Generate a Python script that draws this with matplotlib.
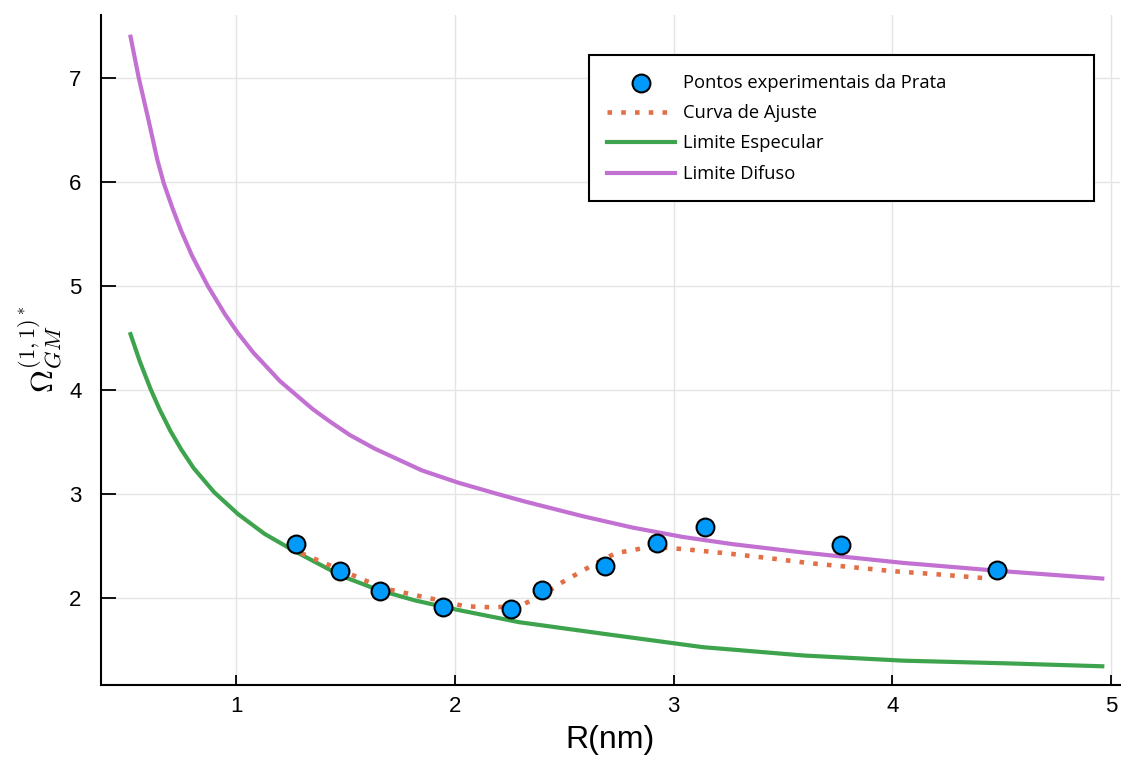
import matplotlib
matplotlib.use("Agg")
import matplotlib.pyplot as plt

plt.rcParams['mathtext.fontset'] = 'cm'

# experimental points (silver)
r_exp = [1.275, 1.477, 1.656, 1.945, 2.257, 2.399, 2.688, 2.922, 3.142, 3.766, 4.477]
omega_exp = [2.519, 2.260, 2.067, 1.913, 1.894, 2.077, 2.308, 2.529, 2.683, 2.510, 2.269]

# fitted curve
r_fit = [1.298, 1.482, 1.674, 1.927, 2.046, 2.170, 2.294, 2.399, 2.491, 2.628,
         2.734, 2.858, 2.936, 3.055, 3.239, 3.440, 3.624, 3.821, 4.005, 4.202, 4.431]
omega_fit = [2.433, 2.269, 2.096, 1.981, 1.923, 1.913, 1.923, 2.029, 2.154, 2.317,
             2.433, 2.481, 2.490, 2.471, 2.433, 2.385, 2.337, 2.298, 2.260, 2.231, 2.192]

# specular limit
r_spec = [0.518, 0.560, 0.610, 0.650, 0.700, 0.750, 0.807, 0.900, 1.009, 1.130, 1.266,
          1.482, 1.650, 1.817, 1.986, 2.294, 2.674, 3.133, 3.592, 4.050, 4.509, 4.959]
omega_spec = [4.540, 4.280, 4.010, 3.820, 3.610, 3.430, 3.250, 3.020, 2.810, 2.620, 2.455,
              2.215, 2.080, 1.980, 1.900, 1.770, 1.660, 1.530, 1.450, 1.400, 1.375, 1.346]

# diffuse limit
r_dif = [0.518, 0.555, 0.600, 0.640, 0.670, 0.710, 0.750, 0.800, 0.872, 0.950, 1.009,
         1.080, 1.147, 1.200, 1.261, 1.350, 1.422, 1.520, 1.633, 1.849, 2.018, 2.200,
         2.321, 2.583, 2.812, 3.041, 3.271, 3.592, 4.050, 4.509, 4.959]
omega_dif = [7.400, 7.010, 6.600, 6.220, 5.990, 5.750, 5.530, 5.290, 5.000, 4.730, 4.550,
             4.360, 4.210, 4.090, 3.980, 3.820, 3.710, 3.570, 3.440, 3.230, 3.110, 3.000,
             2.930, 2.790, 2.680, 2.590, 2.520, 2.440, 2.340, 2.260, 2.190]

fig = plt.figure(figsize=(11.21, 7.63), dpi=100)
ax = fig.add_axes([101/1121, 1 - 685/763, (1120-101)/1121, (685-15)/763])

ax.plot(r_fit, omega_fit, color='#E26F46', lw=3.3, linestyle=(0, (1, 2.0)),
        dash_capstyle='butt', label='Curva de Ajuste', zorder=3)
ax.plot(r_spec, omega_spec, color='#3DA44D', lw=3, label='Limite Especular', zorder=2)
ax.plot(r_dif, omega_dif, color='#C271D2', lw=3, label='Limite Difuso', zorder=2)
ax.scatter(r_exp, omega_exp, s=165, color='#009AFA', edgecolor='black', linewidth=1.5,
           label='Pontos experimentais da Prata', zorder=4)

ax.set_xlim(0.383, 5.04)
ax.set_ylim(1.166, 7.609)
ax.set_xticks([1, 2, 3, 4, 5])
ax.set_yticks([2, 3, 4, 5, 6, 7])

ax.grid(True, color='#e4e4e4', linewidth=1)
ax.set_axisbelow(True)
for s in ['top', 'right']:
    ax.spines[s].set_visible(False)
for s in ['left', 'bottom']:
    ax.spines[s].set_linewidth(1.5)

ax.tick_params(axis='y', direction='in', length=11, width=1.3, pad=14, labelsize=16)
ax.tick_params(axis='x', direction='in', length=7.5, width=1.3, pad=8, labelsize=16)
for lab in ax.get_xticklabels() + ax.get_yticklabels():
    lab.set_family('Liberation Sans')

ax.set_xlabel('R(nm)', fontsize=23, family='Liberation Sans', labelpad=6)
ax.set_ylabel(r'$\Omega_{GM}^{(1,1)^*}$', fontsize=23, labelpad=4)

handles, labels = ax.get_legend_handles_labels()
order = [3, 0, 1, 2]
leg = ax.legend([handles[i] for i in order], [labels[i] for i in order],
                loc='upper left', bbox_to_anchor=(0.479, 0.0, 0.495, 0.940),
                mode='expand', borderaxespad=0, fancybox=False, framealpha=1,
                edgecolor='black', prop={'family': 'Open Sans', 'size': 13.2},
                handlelength=3.7, handletextpad=0.4, labelspacing=0.68,
                borderpad=1.0, scatterpoints=1)
leg.get_frame().set_linewidth(1.5)

fig.savefig('out.png', dpi=100)
